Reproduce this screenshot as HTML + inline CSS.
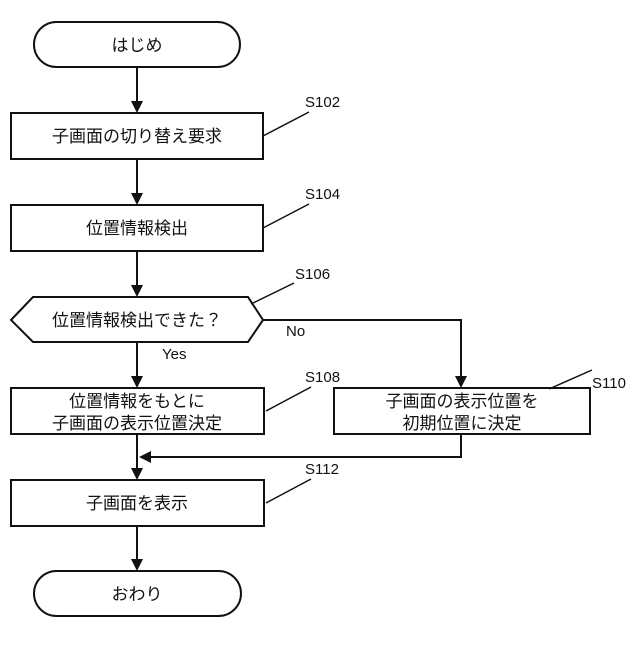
<!DOCTYPE html>
<html><head><meta charset="utf-8"><style>
body{margin:0;background:#fff}
svg text{font-family:"Liberation Sans","Noto Sans CJK JP",sans-serif;fill:#111}
</style></head><body>
<svg width="640" height="640" viewBox="0 0 640 640" xmlns="http://www.w3.org/2000/svg">
<g stroke="#111" stroke-width="2" fill="none">
<rect x="34" y="22" width="206" height="45" rx="22.5"/>
<rect x="11" y="113" width="252" height="46"/>
<rect x="11" y="205" width="252" height="46"/>
<polygon points="11,320 33,297 248,297 263,320 248,342 33,342"/>
<rect x="11" y="388" width="253" height="46"/>
<rect x="334" y="388" width="256" height="46"/>
<rect x="11" y="480" width="253" height="46"/>
<rect x="34" y="571" width="207" height="45" rx="22.5"/>
<line x1="137" y1="67" x2="137" y2="104"/>
<line x1="137" y1="159" x2="137" y2="196"/>
<line x1="137" y1="251" x2="137" y2="288"/>
<line x1="137" y1="342" x2="137" y2="379"/>
<polyline points="263,320 461,320 461,379"/>
<line x1="137" y1="434" x2="137" y2="471"/>
<polyline points="461,434 461,457 149,457"/>
<line x1="137" y1="526" x2="137" y2="562"/>
<g stroke-width="1.5">
<line x1="263" y1="136" x2="309" y2="112"/>
<line x1="263" y1="228" x2="309" y2="204"/>
<line x1="251" y1="304" x2="294" y2="283"/>
<line x1="266" y1="411" x2="311" y2="387"/>
<line x1="549" y1="389" x2="592" y2="370"/>
<line x1="266" y1="503" x2="311" y2="479"/>
</g>
</g>
<g fill="#111">
<path d="M131,101 L143,101 L137,113 Z"/>
<path d="M131,193 L143,193 L137,205 Z"/>
<path d="M131,285 L143,285 L137,297 Z"/>
<path d="M131,376 L143,376 L137,388 Z"/>
<path d="M455,376 L467,376 L461,388 Z"/>
<path d="M131,468 L143,468 L137,480 Z"/>
<path d="M131,559 L143,559 L137,571 Z"/>
<path d="M151,451 L151,463 L139,457 Z"/>
</g>
<g font-size="17" text-anchor="middle">
<text x="137" y="51">はじめ</text>
<text x="137" y="142">子画面の切り替え要求</text>
<text x="137" y="234">位置情報検出</text>
<text x="137" y="326">位置情報検出できた？</text>
<text x="137" y="407">位置情報をもとに</text>
<text x="137" y="429">子画面の表示位置決定</text>
<text x="462" y="407">子画面の表示位置を</text>
<text x="462" y="429">初期位置に決定</text>
<text x="137" y="509">子画面を表示</text>
<text x="137" y="600">おわり</text>
</g>
<g font-size="15">
<text x="305" y="107">S102</text>
<text x="305" y="199">S104</text>
<text x="295" y="279">S106</text>
<text x="305" y="382">S108</text>
<text x="592" y="388">S110</text>
<text x="305" y="474">S112</text>
<text x="162" y="359">Yes</text>
<text x="286" y="336">No</text>
</g>
</svg>
</body></html>
